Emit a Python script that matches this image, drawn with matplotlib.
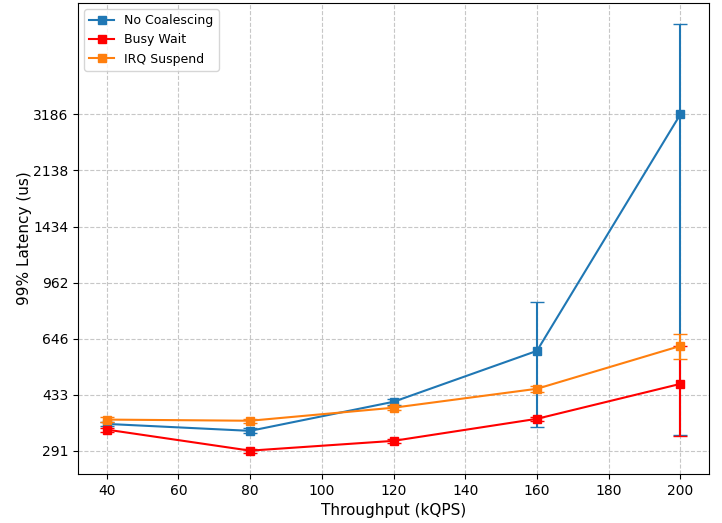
import matplotlib
matplotlib.use("Agg")
import matplotlib.pyplot as plt
from matplotlib.ticker import NullLocator

throughput = [40, 80, 120, 160, 200]

no_coal = [352, 335, 412, 592, 3186]
no_coal_err = [6, 6, 8, 248, 2860]

busy_wait = [338, 291, 312, 365, 468]
busy_wait_err = [5, 4, 5, 6, 144]

irq_suspend = [363, 360, 395, 452, 613]
irq_suspend_err = [6, 5, 6, 9, 55]

yticks = [291, 433, 646, 962, 1434, 2138, 3186]

fig, ax = plt.subplots(figsize=(7.22, 5.23), dpi=100)
series = [
    (no_coal, no_coal_err, '#1f77b4', 'No Coalescing'),
    (busy_wait, busy_wait_err, 'red', 'Busy Wait'),
    (irq_suspend, irq_suspend_err, '#ff7f0e', 'IRQ Suspend'),
]
for vals, err, col, lab in series:
    ax.errorbar(throughput, vals, yerr=err, fmt='none', ecolor=col, capsize=5, elinewidth=1.5)
    ax.plot(throughput, vals, marker='s', color=col, label=lab)

ax.set_yscale('log')
ax.yaxis.set_minor_locator(NullLocator())
ax.set_yticks(yticks)
ax.set_yticklabels([str(t) for t in yticks])
ax.grid(True, linestyle='--', alpha=0.7)
ax.set_xlabel('Throughput (kQPS)', fontsize=11)
ax.set_ylabel('99% Latency (us)', fontsize=11, labelpad=1)
ax.legend(loc='upper left', fontsize=9)
fig.subplots_adjust(left=78/722, right=709/722, top=1-3/523, bottom=1-474/523)
fig.savefig('out.png', dpi=100)
